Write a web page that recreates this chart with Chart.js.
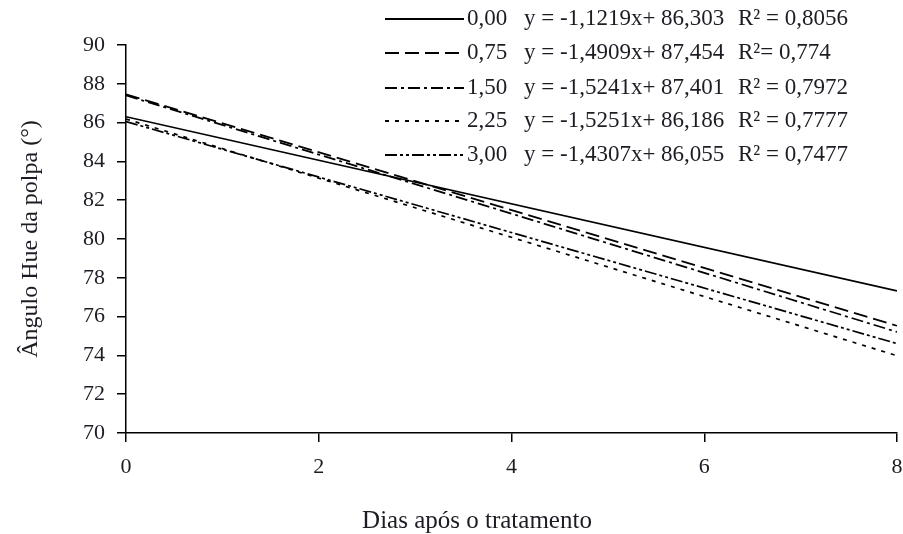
<!DOCTYPE html>
<html>
<head>
<meta charset="utf-8">
<script src="https://cdn.jsdelivr.net/npm/chart.js@4"></script>
<style>
  html, body { margin: 0; padding: 0; background: #fff; }
  #chart { display: block; }
</style>
</head>
<body>
<canvas id="chart" width="903" height="534"></canvas>
<script>
// doses e equações de regressão ajustadas
const doses = ['0,00', '0,75', '1,50', '2,25', '3,00'];
const slopes = [-1.1219, -1.4909, -1.5241, -1.5251, -1.4307];
const intercepts = [86.303, 87.454, 87.401, 86.186, 86.055];
const equations = [
    'y = -1,1219x+ 86,303',
    'y = -1,4909x+ 87,454',
    'y = -1,5241x+ 87,401',
    'y = -1,5251x+ 86,186',
    'y = -1,4307x+ 86,055'
];
const r2Labels = ['R² = 0,8056', 'R²= 0,774', 'R² = 0,7972', 'R² = 0,7777', 'R² = 0,7477'];
const days = [0, 8];
const xTicks = [0, 2, 4, 6, 8];
const yTicks = [70, 72, 74, 76, 78, 80, 82, 84, 86, 88, 90];
const xTitle = 'Dias após o tratamento';
const yTitle = 'Ângulo Hue da polpa (°)';

const dashes = [[], [14, 6], [12, 4, 3, 4], [4, 6], [12, 3, 3, 3, 3, 3]];
const ink = '#1c1c24';
const serif = "'Liberation Serif', 'Times New Roman', serif";

const datasets = doses.map(function (d, i) {
    return {
        label: d,
        data: days.map(x => ({ x: x, y: slopes[i] * x + intercepts[i] })),
        borderColor: '#000',
        borderWidth: 1.7,
        borderDash: dashes[i],
        pointRadius: 0,
        fill: false
    };
});

// legenda desenhada à mão (amostra da linha, dose, equação e R²) e título do eixo x
const legendPlugin = {
    id: 'eqLegend',
    afterDraw(chart) {
        const ctx = chart.ctx;
        ctx.save();
        ctx.font = '23px ' + serif;
        ctx.fillStyle = ink;
        ctx.textBaseline = 'middle';
        ctx.textAlign = 'left';
        const rowY = [19, 53, 88, 121, 155];
        doses.forEach(function (d, i) {
            const y = rowY[i];
            ctx.beginPath();
            ctx.setLineDash(dashes[i]);
            ctx.lineWidth = 1.8;
            ctx.strokeStyle = '#000';
            ctx.moveTo(385, y);
            ctx.lineTo(464, y);
            ctx.stroke();
            ctx.setLineDash([]);
            ctx.fillText(d, 467, y);
            ctx.fillText(equations[i], 524, y);
            ctx.fillText(r2Labels[i], 738, y);
        });
        ctx.font = '25px ' + serif;
        ctx.textAlign = 'center';
        ctx.fillText(xTitle, 477, 521);
        ctx.restore();
    }
};

new Chart(document.getElementById('chart'), {
    type: 'line',
    data: { datasets: datasets },
    plugins: [legendPlugin],
    options: {
        responsive: false,
        animation: false,
        layout: { padding: { top: 45, right: 6, left: 0, bottom: 0 } },
        plugins: { legend: { display: false }, tooltip: { enabled: false } },
        scales: {
            x: {
                type: 'linear',
                min: 0,
                max: 8,
                afterBuildTicks(scale) { scale.ticks = xTicks.map(v => ({ value: v })); },
                afterFit(scale) { scale.height = 101; scale.paddingRight = 0; scale.paddingLeft = 0; },
                grid: { drawOnChartArea: false, drawTicks: true, tickLength: 9, color: '#000', lineWidth: 1.5 },
                border: { color: '#000', width: 1.5 },
                ticks: { color: ink, font: { family: serif, size: 22 }, padding: 12 }
            },
            y: {
                type: 'linear',
                min: 70,
                max: 90,
                afterBuildTicks(scale) { scale.ticks = yTicks.map(v => ({ value: v })); },
                afterFit(scale) { scale.width = 126; },
                grid: { drawOnChartArea: false, drawTicks: true, tickLength: 9, color: '#000', lineWidth: 1.5 },
                border: { color: '#000', width: 1.5 },
                ticks: { color: ink, font: { family: serif, size: 22 }, padding: 12 },
                title: {
                    display: true,
                    text: yTitle,
                    color: ink,
                    font: { family: serif, size: 24 },
                    padding: { top: 16, bottom: 4 }
                }
            }
        }
    }
});
</script>
</body>
</html>
